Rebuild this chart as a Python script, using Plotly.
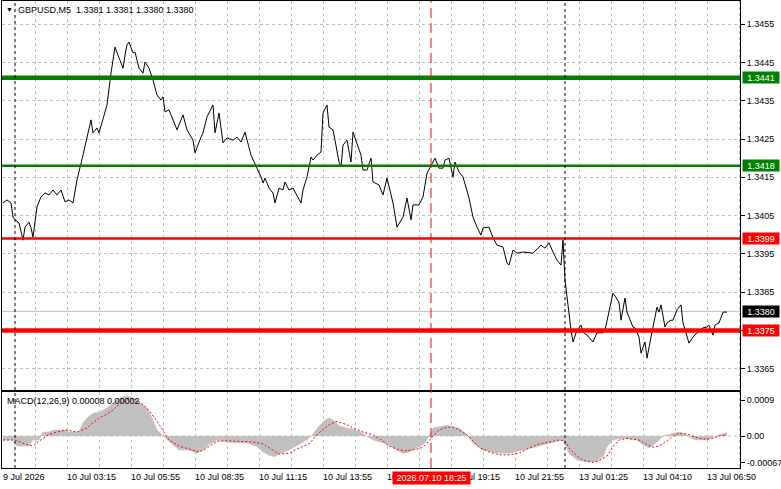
import plotly.graph_objects as go

W, H = 781, 489

# ---------------- data ----------------
price_idx = [0, 2, 4, 5, 6, 8, 10, 11, 13, 14, 15, 17, 19, 21, 23, 25, 27, 29, 31, 33, 35, 37, 40, 42, 44, 45,
             47, 48, 50, 52, 54, 56, 58, 60, 61, 62, 63, 65, 66, 68, 70, 71, 73, 75, 77, 79, 80, 81, 83, 85,
             87, 90, 92, 95, 96, 99, 100, 102, 105, 106, 108, 110, 112, 115, 117, 119, 121, 124, 127, 129,
             130, 131, 133, 135, 136, 138, 140, 141, 143, 145, 146, 149, 150, 152, 154, 155, 157, 159, 160,
             162, 163, 165, 166, 168, 169, 170, 172, 174, 175, 177, 179, 180, 182, 184, 185, 188, 190, 192,
             194, 195, 197, 200, 202, 204, 205, 208, 210, 212, 215, 216, 218, 220, 221, 223, 225, 226, 228,
             230, 233, 235, 237, 239, 240, 243, 245, 247, 250, 252, 253, 255, 257, 260, 265, 269, 271, 273,
             275, 277, 279, 280, 281, 282, 283, 284, 285, 287, 289, 290, 292, 295, 297, 300, 301, 303, 305,
             308, 309, 311, 312, 315, 316, 318, 319, 321, 322, 324, 325, 327, 328, 329, 331, 332, 334, 335,
             337, 339, 340, 343, 345, 347, 350, 352, 353, 355, 356, 358, 360, 362]
price_close = [1.34083, 1.34091, 1.34083, 1.34046, 1.34039, 1.34031, 1.33986, 1.34020, 1.34033, 1.34018,
               1.33994, 1.34073, 1.34099, 1.34109, 1.34104, 1.34117, 1.34104, 1.34117, 1.34086, 1.34091,
               1.34083, 1.34143, 1.34208, 1.34253, 1.34300, 1.34266, 1.34279, 1.34266, 1.34300, 1.34339,
               1.34422, 1.34490, 1.34462, 1.34435, 1.34469, 1.34496, 1.34503, 1.34475, 1.34477, 1.34435,
               1.34422, 1.34451, 1.34435, 1.34404, 1.34365, 1.34352, 1.34360, 1.34321, 1.34326, 1.34300,
               1.34274, 1.34313, 1.34274, 1.34247, 1.34214, 1.34255, 1.34266, 1.34308, 1.34339, 1.34266,
               1.34318, 1.34240, 1.34253, 1.34247, 1.34255, 1.34242, 1.34268, 1.34208, 1.34174, 1.34151,
               1.34135, 1.34148, 1.34122, 1.34109, 1.34083, 1.34122, 1.34117, 1.34138, 1.34117, 1.34122,
               1.34112, 1.34083, 1.34117, 1.34151, 1.34203, 1.34195, 1.34208, 1.34216, 1.34318, 1.34339,
               1.34281, 1.34274, 1.34247, 1.34190, 1.34177, 1.34234, 1.34247, 1.34190, 1.34268, 1.34240,
               1.34208, 1.34169, 1.34169, 1.34200, 1.34138, 1.34130, 1.34104, 1.34148, 1.34104, 1.34083,
               1.34020, 1.34046, 1.34096, 1.34039, 1.34078, 1.34078, 1.34099, 1.34161, 1.34190, 1.34200,
               1.34174, 1.34174, 1.34195, 1.34200, 1.34151, 1.34190, 1.34164, 1.34151, 1.34096, 1.34046,
               1.34020, 1.33999, 1.34018, 1.34020, 1.33992, 1.33973, 1.33968, 1.33926, 1.33921, 1.33960,
               1.33952, 1.33955, 1.33952, 1.33973, 1.33965, 1.33979, 1.33955, 1.33934, 1.33921, 1.33986,
               1.33882, 1.33835, 1.33798, 1.33751, 1.33720, 1.33751, 1.33764, 1.33746, 1.33738, 1.33720,
               1.33744, 1.33744, 1.33751, 1.33796, 1.33848, 1.33824, 1.33777, 1.33835, 1.33798, 1.33759,
               1.33757, 1.33733, 1.33691, 1.33720, 1.33678, 1.33733, 1.33759, 1.33811, 1.33798, 1.33817,
               1.33759, 1.33770, 1.33777, 1.33777, 1.33804, 1.33817, 1.33770, 1.33717, 1.33733, 1.33744,
               1.33757, 1.33759, 1.33764, 1.33738, 1.33764, 1.33770, 1.33798, 1.33798]

hist_idx = [0, 5, 7, 13, 15, 18, 20, 23, 25, 32, 33, 38, 40, 42, 45, 48, 52, 55, 58, 62, 65, 68, 72, 75, 77,
            80, 83, 86, 88, 93, 97, 100, 103, 107, 110, 115, 122, 127, 130, 133, 136, 138, 143, 148, 152,
            155, 158, 161, 163, 166, 168, 172, 175, 178, 182, 185, 190, 193, 197, 200, 203, 207, 210, 212,
            215, 218, 222, 225, 228, 232, 235, 240, 247, 253, 260, 267, 273, 280, 283, 287, 290, 293, 297,
            300, 302, 305, 308, 312, 317, 320, 323, 327, 330, 335, 338, 342, 345, 348, 352, 355, 358, 362]
hist_val = [-0.0001, -0.0001, -0.00025, -0.00025, -0.0001, -0.0001, 0.0001, 0.0001, 0.00015, 0.00015,
            0.0001, 0.0001, 0.00033, 0.00045, 0.00057, 0.0006, 0.0007, 0.00083, 0.00095, 0.001, 0.00095,
            0.00085, 0.0007, 0.0004, 0.00015, 0.0, -0.00013, -0.00027, -0.00035, -0.00035, -0.00043,
            -0.00035, -0.00022, -0.0001, -0.00012, -0.00017, -0.00017, -0.00027, -0.0004, -0.00048,
            -0.00052, -0.00045, -0.00035, -0.00022, -0.0001, 0.00005, 0.00025, 0.0004, 0.00045, 0.00037,
            0.00025, 0.0002, 0.00017, 0.00012, 0.0, -0.0001, -0.00017, -0.00023, -0.00035, -0.00043,
            -0.0004, -0.0003, -0.00022, -0.0001, 0.0002, 0.00023, 0.00027, 0.00023, 0.0002, 0.00003,
            -0.00018, -0.00035, -0.00043, -0.00043, -0.00035, -0.00027, -0.00018, -0.0001, -0.00043,
            -0.0006, -0.00063, -0.00065, -0.00063, -0.00052, -0.00027, -0.0001, -0.00006, -0.00006,
            -0.0001, -0.00022, -0.0003, -0.00015, 0.0, 0.00007, 0.0001, 0.00002, -0.00008, -0.0001,
            -0.0001, -0.00003, 0.00003, 0.00008]

sig_idx = [0, 6, 11, 15, 18, 23, 27, 32, 37, 42, 45, 48, 52, 55, 57, 60, 63, 67, 72, 77, 80, 83, 88, 93,
           98, 102, 107, 112, 118, 125, 130, 135, 138, 143, 148, 153, 158, 163, 167, 172, 175, 180, 185,
           190, 193, 197, 201, 207, 210, 212, 215, 218, 222, 225, 228, 232, 235, 238, 243, 248, 253, 258,
           263, 268, 273, 278, 281, 283, 287, 290, 295, 298, 302, 305, 308, 312, 315, 318, 322, 325, 328,
           332, 335, 338, 342, 345, 348, 352, 355, 358, 361]
sig_val = [-0.0001, -0.0001, -0.0002, -0.00025, -0.00013, 0.00004, 0.0001, 0.00015, 0.0001, 0.0002,
           0.00033, 0.00045, 0.00055, 0.00065, 0.00075, 0.00085, 0.00095, 0.0009, 0.0007, 0.00037,
           0.00012, -0.0001, -0.00025, -0.00032, -0.0004, -0.0003, -0.00013, -0.00012, -0.00013,
           -0.00015, -0.0002, -0.00035, -0.00045, -0.00043, -0.0003, -0.0002, 0.00008, 0.00028, 0.00037,
           0.00028, 0.0002, 0.0001, 0.00003, -0.00013, -0.00025, -0.00033, -0.00037, -0.00033, -0.00028,
           -0.00018, 0.0, 0.00015, 0.00022, 0.00022, 0.00015, 0.00003, -0.00013, -0.00028, -0.0004,
           -0.00047, -0.00047, -0.00043, -0.0003, -0.0002, -0.00015, -0.0001, -0.00012, -0.0003, -0.0005,
           -0.0006, -0.00066, -0.00062, -0.0005, -0.00027, -0.0001, -0.00006, -0.00008, -0.0001, -0.00022,
           -0.00028, -0.00025, -0.00013, 0.0, 0.00007, 0.00005, 0.0, -0.00006, -0.00008, -0.00006, 0.0,
           0.00002]

price_ticks = [1.3365, 1.3375, 1.3385, 1.3395, 1.3405, 1.3415, 1.3425, 1.3435, 1.3445, 1.3455]
macd_ticks = [0.0009, 0.0, -0.00067]
macd_ticktext = ["0.0009", "0.00", "-0.00067"]
time_label_idx = [0, 32, 64, 96, 128, 160, 192, 224, 256, 288, 320, 352]
time_labels = ["9 Jul 2026", "10 Jul 03:15", "10 Jul 05:55", "10 Jul 08:35", "10 Jul 11:15",
               "10 Jul 13:55", "10 Jul 16:35", "10 Jul 19:15", "10 Jul 21:55", "13 Jul 01:25",
               "13 Jul 04:10", "13 Jul 06:50"]
grid_idx = list(range(0, 369, 16))

level_prices = [1.3441, 1.3418, 1.3399, 1.3375]
level_colors = ["#008000", "#008000", "#FF0000", "#FF0000"]
level_widths = [4.5, 2.5, 2.5, 4.5]
bid_price = 1.3380
crosshair_idx = 214
crosshair_text = "2026.07.10 18:25"
separator_idx = [6, 281]
title_text = "GBPUSD,M5\u00a0\u00a01.3381 1.3381 1.3380 1.3380"
macd_title = "MACD(12,26,9) 0.00008 0.00002"

# ---------------- geometry (pixels) ----------------
def px(x):
    return x / W

def py(y):
    return 1 - y / H

X0, X1 = 2, 740
MAIN_T, MAIN_B = 1, 390
MACD_T, MACD_B = 392, 468
FONT = "Liberation Sans"
GRID = "#C0C0C0"

fig = go.Figure()

fig.add_trace(go.Scatter(x=hist_idx, y=hist_val, xaxis="x2", yaxis="y2", mode="lines",
                         fill="tozeroy", fillcolor="#C0C0C0", line=dict(color="#C0C0C0", width=0.5),
                         hoverinfo="skip", showlegend=False))
fig.add_trace(go.Scatter(x=sig_idx, y=sig_val, xaxis="x2", yaxis="y2", mode="lines",
                         line=dict(color="#FF0000", width=1, dash="2px,2px"),
                         hoverinfo="skip", showlegend=False))
fig.add_trace(go.Scatter(x=price_idx, y=price_close, xaxis="x", yaxis="y", mode="lines",
                         line=dict(color="#000000", width=1), hoverinfo="skip", showlegend=False))

shapes = []
# bid line
shapes.append(dict(type="line", xref="paper", yref="y", x0=px(X0), x1=px(X1), y0=bid_price, y1=bid_price,
                   line=dict(color="#C0C0C0", width=1), layer="below"))
# MACD zero grid
shapes.append(dict(type="line", xref="paper", yref="y2", x0=px(X0), x1=px(X1), y0=0, y1=0,
                   line=dict(color=GRID, width=1, dash="3px,3px"), layer="below"))
# level lines
for p, c, w in zip(level_prices, level_colors, level_widths):
    shapes.append(dict(type="line", xref="paper", yref="y", x0=px(X0), x1=px(X1), y0=p, y1=p,
                       line=dict(color=c, width=w), layer="above"))
# day separators
for s in separator_idx:
    shapes.append(dict(type="line", xref="x", yref="paper", x0=s, x1=s, y0=py(MAIN_B), y1=py(MAIN_T),
                       line=dict(color="#000000", width=1, dash="3px,3px"), layer="above"))
    shapes.append(dict(type="line", xref="x", yref="paper", x0=s, x1=s, y0=py(MACD_B), y1=py(MACD_T),
                       line=dict(color="#000000", width=1, dash="3px,3px"), layer="above"))
# crosshair
shapes.append(dict(type="line", xref="x", yref="paper", x0=crosshair_idx, x1=crosshair_idx,
                   y0=py(MACD_B), y1=py(MAIN_T), line=dict(color="#FF0000", width=1, dash="10px,5px"),
                   layer="above"))

annotations = []
annotations.append(dict(text="\u25bc", xref="paper", yref="paper", x=px(9), y=py(9), xanchor="center",
                        yanchor="middle", showarrow=False, font=dict(family=FONT, size=7, color="#000")))
annotations.append(dict(text=title_text, xref="paper", yref="paper", x=px(16), y=py(10), xanchor="left",
                        yanchor="middle", showarrow=False, font=dict(family=FONT, size=9, color="#000")))
annotations.append(dict(text=macd_title, xref="paper", yref="paper", x=px(5), y=py(401), xanchor="left",
                        yanchor="middle", showarrow=False, font=dict(family=FONT, size=9, color="#000")))
for i, t in zip(time_label_idx, time_labels):
    annotations.append(dict(text=t, xref="x2", yref="paper", x=i, y=py(477), xanchor="left",
                            yanchor="middle", xshift=-2, showarrow=False,
                            font=dict(family=FONT, size=9, color="#000")))
for p, c in zip(level_prices, level_colors):
    annotations.append(dict(text=f"{p:.4f}", xref="paper", yref="y", x=px(742), y=p, xanchor="left",
                            yanchor="middle", showarrow=False, bgcolor=c, width=36, height=11,
                            borderpad=0, align="center", font=dict(family=FONT, size=9, color="#FFFFFF")))
annotations.append(dict(text=f"{bid_price:.4f}", xref="paper", yref="y", x=px(742), y=bid_price,
                        xanchor="left", yanchor="middle", showarrow=False, bgcolor="#000000", width=36,
                        height=11, borderpad=0, align="center",
                        font=dict(family=FONT, size=9, color="#FFFFFF")))
annotations.append(dict(text=crosshair_text, xref="x2", yref="paper", x=crosshair_idx, y=py(478),
                        xanchor="center", yanchor="middle", showarrow=False, bgcolor="#FF0000", width=77,
                        height=12, borderpad=0, align="center",
                        font=dict(family=FONT, size=9, color="#FFFFFF")))

xcommon = dict(domain=[px(X0), px(X1)], range=[-0.5, 368.5], showline=True, mirror=True,
               linecolor="#000000", linewidth=1, showticklabels=False, ticks="",
               tickmode="array", tickvals=grid_idx, showgrid=True, gridcolor=GRID,
               griddash="3px,3px", gridwidth=1, zeroline=False, fixedrange=True)

fig.update_layout(
    width=W, height=H, margin=dict(l=0, r=0, t=0, b=0),
    paper_bgcolor="#FFFFFF", plot_bgcolor="#FFFFFF", showlegend=False,
    font=dict(family=FONT, size=9, color="#000000"),
    xaxis=dict(anchor="y", **xcommon),
    xaxis2=dict(anchor="y2", matches="x", **xcommon),
    yaxis=dict(domain=[py(MAIN_B), py(MAIN_T)], range=[1.335947, 1.346104], anchor="x", side="right",
               showline=True, mirror=True, linecolor="#000000", linewidth=1, ticks="outside",
               ticklen=4, tickcolor="#000000", tickmode="array", tickvals=price_ticks,
               ticktext=[f"{v:.4f}" for v in price_ticks], showgrid=True, gridcolor=GRID,
               griddash="3px,3px", zeroline=False, tickfont=dict(family=FONT, size=9, color="#000"),
               fixedrange=True),
    yaxis2=dict(domain=[py(MACD_B), py(MACD_T)], range=[-0.0008, 0.0011], anchor="x2", side="right",
                showline=True, mirror=True, linecolor="#000000", linewidth=1, ticks="outside",
                ticklen=4, tickcolor="#000000", tickmode="array", tickvals=macd_ticks,
                ticktext=macd_ticktext, showgrid=False, zeroline=False,
                tickfont=dict(family=FONT, size=9, color="#000"), fixedrange=True),
    shapes=shapes,
    annotations=annotations,
)

fig.write_html("out.html", config={"displayModeBar": False})
